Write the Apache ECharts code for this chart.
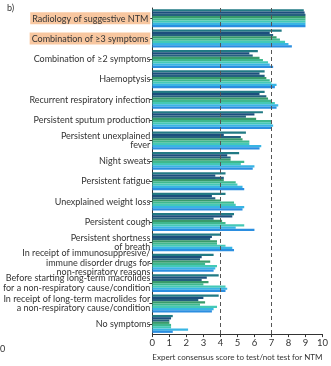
<!DOCTYPE html>
<html>
<head>
<meta charset="utf-8">
<script src="https://cdn.jsdelivr.net/npm/echarts@6/dist/echarts.min.js"></script>
<style>
html,body{margin:0;padding:0;background:#fff;}
#chart{width:331px;height:366px;}
</style>
</head>
<body>
<div id="chart"></div>
<script>
// Criteria rated by the panel, top to bottom
const categories = [
  'Radiology of suggestive NTM',
  'Combination of \u22653 symptoms',
  'Combination of \u22652 symptoms',
  'Haemoptysis',
  'Recurrent respiratory infection',
  'Persistent sputum production',
  'Persistent unexplained\nfever',
  'Night sweats',
  'Persistent fatigue',
  'Unexplained weight loss',
  'Persistent cough',
  'Persistent shortness\nof breath',
  'In receipt of immunosuppresive/\nimmune disorder drugs for\nnon-respiratory reasons',
  'Before starting long-term macrolides\nfor a non-respiratory cause/condition',
  'In receipt of long-term macrolides for\na non-respiratory cause/condition',
  'No symptoms'
];
const highlighted = ['Radiology of suggestive NTM', 'Combination of \u22653 symptoms'];

// Scores per rating group (one array per bar colour)
const groupA = [8.9, 7.6, 6.2, 6.6, 6.6, 6.5, 5.5, 5.1, 4.3, 4.3, 4.8, 4.0, 3.6, 3.9, 3.9, 1.2];
const groupB = [8.95, 6.9, 5.7, 6.3, 6.3, 6.0, 4.2, 4.4, 3.7, 3.5, 4.7, 3.5, 2.9, 3.2, 3.0, 1.1];
const groupC = [9.0, 7.1, 5.9, 6.6, 6.7, 5.5, 5.2, 4.6, 4.2, 3.7, 3.6, 3.4, 2.8, 2.9, 2.7, 1.0];
const groupD = [9.0, 7.3, 6.3, 6.7, 6.8, 6.1, 5.3, 4.6, 4.2, 4.0, 4.1, 3.8, 3.4, 3.3, 3.1, 1.0];
const groupE = [9.0, 7.5, 6.5, 6.9, 7.0, 7.0, 5.7, 5.4, 4.9, 4.8, 4.3, 3.8, 3.1, 3.0, 2.8, 1.1];
const groupF = [9.0, 7.8, 6.8, 7.0, 7.2, 7.0, 5.7, 5.2, 5.0, 4.9, 5.4, 4.3, 3.8, 4.3, 3.8, 1.1];
const groupG = [9.0, 8.0, 6.9, 7.3, 7.4, 7.1, 6.4, 6.0, 5.3, 5.4, 4.9, 4.7, 3.7, 4.4, 3.6, 2.1];
const groupH = [9.0, 8.2, 7.1, 7.2, 7.3, 7.0, 6.3, 5.9, 5.4, 5.3, 6.0, 4.8, 3.6, 4.3, 3.5, 1.2];

const xTicks = [0, 1, 2, 3, 4, 5, 6, 7, 8, 9, 10];
const thresholds = [4, 7];

const groups = [groupA, groupB, groupC, groupD, groupE, groupF, groupG, groupH];
const colours = ['#217a84', '#1c4f7d', '#25607f', '#399b6b', '#3fb88e', '#44c9b6', '#38b5e4', '#2b8ee0'];

const chart = echarts.init(document.getElementById('chart'), null, {renderer: 'canvas'});
const fontFamily = 'Lato, "Noto Sans", sans-serif';

const series = groups.map((g, i) => ({
  type: 'bar',
  data: g,
  itemStyle: {color: colours[i]},
  barGap: '0%',
  barCategoryGap: '12%',
  silent: true,
  animation: false
}));
series.push({
  type: 'scatter',
  data: [],
  silent: true,
  z: 10,
  markLine: {
    symbol: 'none',
    silent: true,
    label: {show: false},
    lineStyle: {color: '#555', type: [4, 3], width: 1},
    data: thresholds.map(v => ({xAxis: v}))
  }
});

chart.setOption({
  animation: false,
  grid: {left: 138, right: 5, top: 8, bottom: 23, containLabel: false},
  xAxis: {
    type: 'value',
    min: 0, max: 10, interval: 1,
    axisLine: {show: true, lineStyle: {color: '#333', width: 1}},
    axisTick: {show: true, length: 3, lineStyle: {color: '#333'}},
    splitLine: {show: false},
    axisLabel: {
      color: '#333', fontSize: 9.5, fontFamily, margin: 4,
      formatter: v => xTicks.includes(v) ? String(v) : ''
    },
    name: 'Expert consensus score to test/not test for NTM',
    nameLocation: 'middle',
    nameGap: 16,
    nameTextStyle: {color: '#333', fontSize: 8, fontFamily}
  },
  yAxis: {
    type: 'category',
    data: categories,
    inverse: true,
    axisLine: {show: true, lineStyle: {color: '#333', width: 1}},
    axisTick: {show: true, length: 3, alignWithLabel: true, lineStyle: {color: '#333'}},
    axisLabel: {
      color: '#333', fontSize: 9, fontFamily, margin: 2, lineHeight: 9.5, align: 'right',
      formatter: v => highlighted.includes(v) ? '{hl|' + v + '}' : v,
      rich: {
        hl: {backgroundColor: '#f8c7a0', padding: [2, 2, 1, 2], color: '#333', fontSize: 9, fontFamily}
      }
    }
  },
  graphic: [
    {type: 'text', left: 7, top: 4, style: {text: 'b)', fill: '#333', fontSize: 9, fontFamily}},
    {type: 'text', left: 0, top: 345, style: {text: '0', fill: '#333', fontSize: 9, fontFamily}}
  ],
  series
});
</script>
</body>
</html>
